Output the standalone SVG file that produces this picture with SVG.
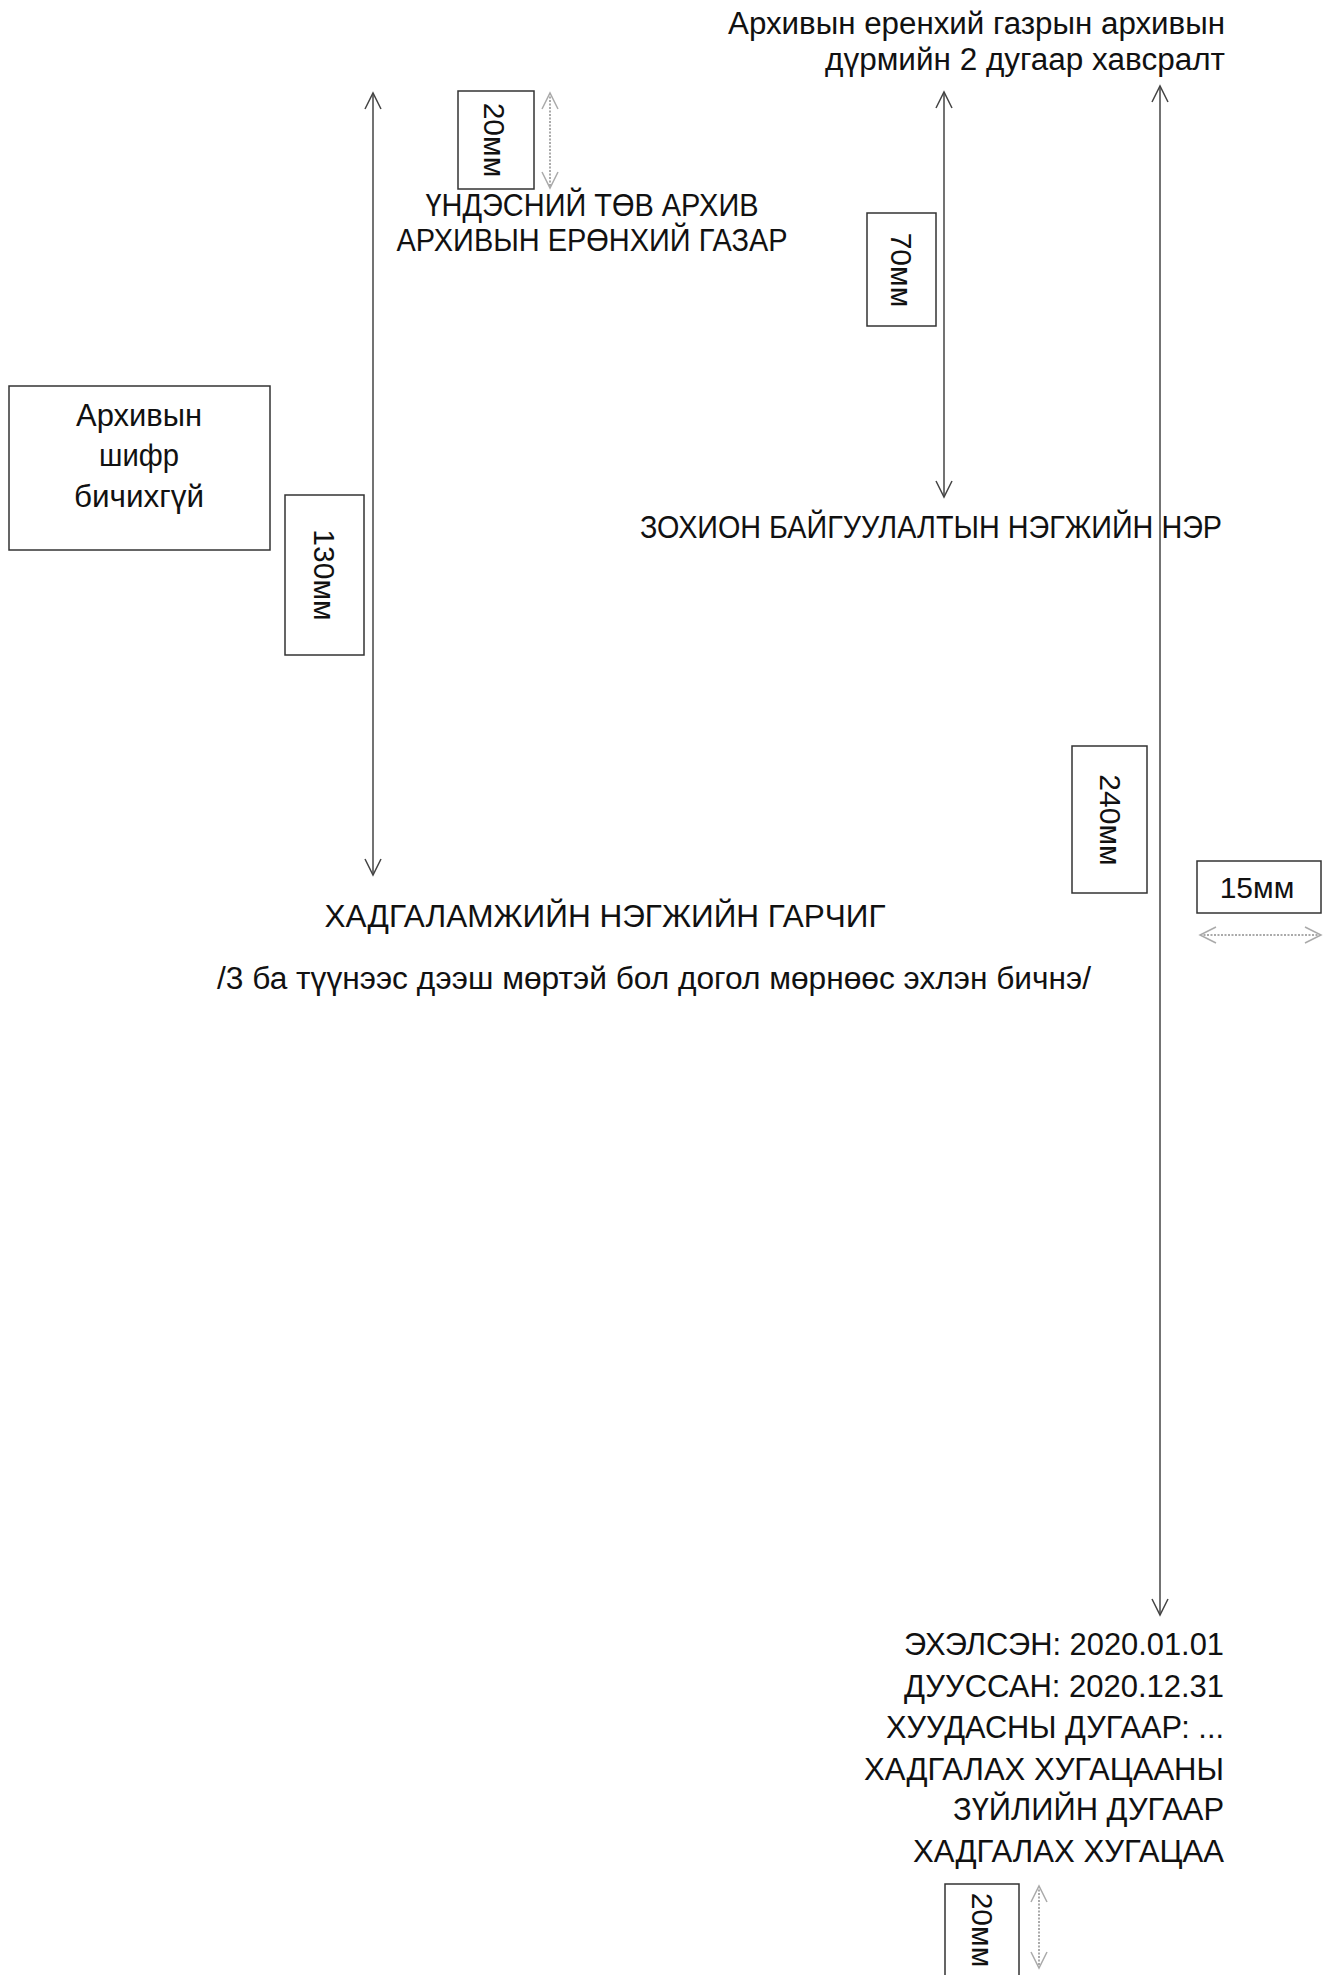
<svg xmlns="http://www.w3.org/2000/svg" width="1323" height="1975" viewBox="0 0 1323 1975">
<defs>
<style>
text{font-family:"Liberation Sans",Arial,sans-serif;font-size:31px;fill:#111}
.box{fill:none;stroke:#333;stroke-width:1.5}
.dim{stroke:#444;stroke-width:1.5;fill:none}
.dimL{stroke:#aaa;stroke-width:2;stroke-dasharray:2 1.5;fill:none}
.r{text-anchor:end}
.m{text-anchor:middle}
.rot{text-anchor:middle;dominant-baseline:central;font-size:30px}
</style>
<marker id="ah" viewBox="0 0 20 20" refX="18" refY="10" markerWidth="20" markerHeight="20" markerUnits="userSpaceOnUse" orient="auto-start-reverse">
<path d="M2,2 L18,10 L2,18" fill="none" stroke="#444" stroke-width="1.5"/>
</marker>
<marker id="ahL" viewBox="0 0 20 20" refX="18" refY="10" markerWidth="20" markerHeight="20" markerUnits="userSpaceOnUse" orient="auto-start-reverse">
<path d="M2,2 L18,10 L2,18" fill="none" stroke="#aaa" stroke-width="1.5"/>
</marker>
</defs>
<rect width="1323" height="1975" fill="#fff"/>

<g id="connectors">
<line class="dim" x1="373" y1="93" x2="373" y2="875" marker-start="url(#ah)" marker-end="url(#ah)"/>
<line class="dimL" x1="550" y1="93" x2="550" y2="188" marker-start="url(#ahL)" marker-end="url(#ahL)"/>
<line class="dim" x1="944" y1="92" x2="944" y2="497" marker-start="url(#ah)" marker-end="url(#ah)"/>
<line class="dim" x1="1160" y1="86" x2="1160" y2="1615" marker-start="url(#ah)" marker-end="url(#ah)"/>
<line class="dimL" x1="1200" y1="935" x2="1321" y2="935" marker-start="url(#ahL)" marker-end="url(#ahL)"/>
<line class="dimL" x1="1039" y1="1886" x2="1039" y2="1968" marker-start="url(#ahL)" marker-end="url(#ahL)"/>
</g>

<g id="title-note">
<text class="r" x="1225" y="34" textLength="497" lengthAdjust="spacingAndGlyphs">Архивын еренхий газрын архивын</text>
<text class="r" x="1225" y="70" textLength="400" lengthAdjust="spacingAndGlyphs">дүрмийн 2 дугаар хавсралт</text>
</g>

<g id="archive-name">
<text class="m" x="592" y="216" textLength="333" lengthAdjust="spacingAndGlyphs">ҮНДЭСНИЙ ТӨВ АРХИВ</text>
<text class="m" x="592" y="251" textLength="391" lengthAdjust="spacingAndGlyphs">АРХИВЫН ЕРӨНХИЙ ГАЗАР</text>
</g>

<g id="box-cipher">
<rect class="box" x="9" y="386" width="261" height="164"/>
<text class="m" x="139" y="426" textLength="126" lengthAdjust="spacingAndGlyphs">Архивын</text>
<text class="m" x="139" y="466" textLength="80" lengthAdjust="spacingAndGlyphs">шифр</text>
<text class="m" x="139" y="507" textLength="130" lengthAdjust="spacingAndGlyphs">бичихгүй</text>
</g>

<g id="label-20mm-top">
<rect class="box" x="458" y="91" width="76" height="98"/>
<text class="rot" transform="translate(494,140) rotate(90)">20мм</text>
</g>

<g id="label-130mm">
<rect class="box" x="285" y="495" width="79" height="160"/>
<text class="rot" transform="translate(324,575) rotate(90)">130мм</text>
</g>

<g id="label-70mm">
<rect class="box" x="867" y="213" width="69" height="113"/>
<text class="rot" transform="translate(901,270) rotate(90)">70мм</text>
</g>

<g id="org-unit">
<text x="640" y="538" textLength="582" lengthAdjust="spacingAndGlyphs">ЗОХИОН БАЙГУУЛАЛТЫН НЭГЖИЙН НЭР</text>
</g>

<g id="label-240mm">
<rect class="box" x="1072" y="746" width="75" height="147"/>
<text class="rot" transform="translate(1110,820) rotate(90)">240мм</text>
</g>

<g id="label-15mm">
<rect class="box" x="1197" y="861" width="124" height="52"/>
<text class="m" x="1257" y="898" style="font-size:30px">15мм</text>
</g>

<g id="heading">
<text class="m" x="605" y="927" textLength="561" lengthAdjust="spacingAndGlyphs">ХАДГАЛАМЖИЙН НЭГЖИЙН ГАРЧИГ</text>
<text class="m" x="654" y="989" textLength="874" lengthAdjust="spacingAndGlyphs">/3 ба түүнээс дээш мөртэй бол догол мөрнөөс эхлэн бичнэ/</text>
</g>

<g id="dates-block">
<text class="r" x="1224" y="1655" textLength="320" lengthAdjust="spacingAndGlyphs">ЭХЭЛСЭН: 2020.01.01</text>
<text class="r" x="1224" y="1697" textLength="320" lengthAdjust="spacingAndGlyphs">ДУУССАН: 2020.12.31</text>
<text class="r" x="1224" y="1738" textLength="338" lengthAdjust="spacingAndGlyphs">ХУУДАСНЫ ДУГААР: ...</text>
<text class="r" x="1224" y="1780" textLength="360" lengthAdjust="spacingAndGlyphs">ХАДГАЛАХ ХУГАЦААНЫ</text>
<text class="r" x="1224" y="1820" textLength="271" lengthAdjust="spacingAndGlyphs">ЗҮЙЛИЙН ДУГААР</text>
<text class="r" x="1224" y="1862" textLength="311" lengthAdjust="spacingAndGlyphs">ХАДГАЛАХ ХУГАЦАА</text>
</g>

<g id="label-20mm-bottom">
<rect class="box" x="945" y="1884" width="74" height="100"/>
<text class="rot" transform="translate(982,1930) rotate(90)">20мм</text>
</g>
</svg>
